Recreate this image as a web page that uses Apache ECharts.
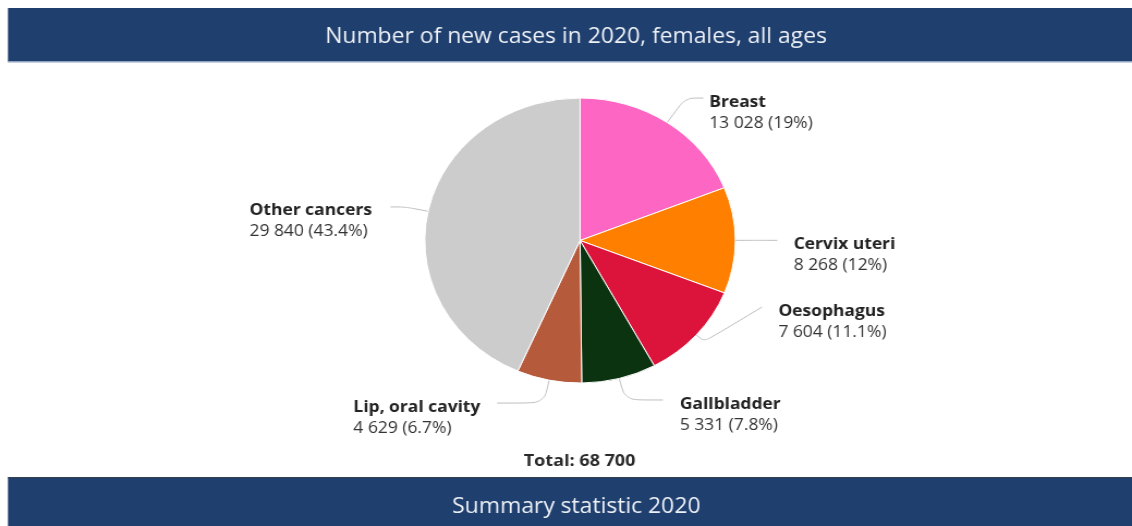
<!DOCTYPE html>
<html>
<head>
<meta charset="utf-8">
<script src="https://cdn.jsdelivr.net/npm/echarts@6/dist/echarts.min.js"></script>
<style>
  html, body { margin: 0; padding: 0; background: #ffffff; overflow: hidden; }
  /* the drawing is laid out on a narrower canvas and widened to the page */
  #chart { width: 1039px; height: 526px; transform: scaleX(1.08951); transform-origin: 0 0; }
</style>
</head>
<body>
<div id="chart"></div>
<script>
// ---- data ----
const categories = ['Breast', 'Cervix uteri', 'Oesophagus', 'Gallbladder', 'Lip, oral cavity', 'Other cancers'];
const newCases = [13028, 8268, 7604, 5331, 4629, 29840];
const chartTitle = 'Number of new cases in 2020, females, all ages';
const footerTitle = 'Summary statistic 2020';

// ---- styling ----
const sliceColors = ['#fe66c3', '#ff7f00', '#dc143c', '#0c3310', '#b65a3c', '#cccccc'];
const barColor = '#1f3f6f';
const FONT = '"Open Sans", "Noto Sans", sans-serif';

// connector shape per slice: radial run, horizontal run, gap before text, upward shift
const connectors = [
  { len: 29.6, len2: 16.5, gap: 5.5, lift: 0 },
  { len: 15,   len2: 23.5, gap: 15,  lift: 0 },
  { len: 10,   len2: 52.8, gap: 15,  lift: 34.5 },
  { len: 22.3, len2: 34.5, gap: 15.5, lift: 0 },
  { len: 23.4, len2: 43,   gap: 15.4, lift: 0 },
  { len: 21.5, len2: 13.5, gap: 17,  lift: 0 }
];

const total = newCases.reduce((a, b) => a + b, 0);
const fmtNum = v => String(v).replace(/\B(?=(\d{3})+(?!\d))/g, ' ');
const fmtPct = v => String(+(v / total * 100).toFixed(1));

const pieData = categories.map((name, i) => ({
  name: name,
  value: newCases[i],
  itemStyle: { color: sliceColors[i] },
  label: { distanceToLabelLine: connectors[i].gap },
  labelLine: { length: connectors[i].len, length2: connectors[i].len2 }
}));

const W = 1039;
const chart = echarts.init(document.getElementById('chart'), null, { renderer: 'canvas' });

chart.setOption({
  animation: false,
  graphic: [
    { type: 'rect', shape: { x: 7.3, y: 8, width: W - 7.3, height: 54 }, style: { fill: barColor } },
    { type: 'rect', shape: { x: 7.3, y: 61, width: W - 7.3, height: 1.5 }, style: { fill: '#8fa2c0' } },
    { type: 'rect', shape: { x: 7.3, y: 477, width: W - 7.3, height: 49 }, style: { fill: barColor } },
    { type: 'rect', shape: { x: 7.3, y: 477, width: W - 7.3, height: 1.2 }, style: { fill: '#33404f' } },
    {
      type: 'text', x: 528.7, y: 37.5,
      style: { text: chartTitle, fill: '#eef1f6', font: '21px ' + FONT, align: 'center', verticalAlign: 'middle' }
    },
    {
      type: 'text', x: 529, y: 507.5,
      style: { text: footerTitle, fill: '#eef1f6', font: '21px ' + FONT, align: 'center', verticalAlign: 'middle' }
    },
    {
      type: 'text', x: 532, y: 461,
      style: { text: 'Total: ' + fmtNum(total), fill: '#2a2a2a', font: 'bold 16.5px ' + FONT, align: 'center', verticalAlign: 'middle' }
    }
  ],
  series: [{
    type: 'pie',
    center: [532.4, 240.5],
    radius: 142.5,
    startAngle: 90,
    clockwise: true,
    avoidLabelOverlap: false,
    emphasis: { disabled: true },
    itemStyle: { borderColor: '#ffffff', borderWidth: 1 },
    label: {
      show: true,
      position: 'outside',
      alignTo: 'none',
      padding: [29, 0, 0, 0],
      formatter: p => '{n|' + p.name + '}\n{v|' + fmtNum(p.value) + ' (' + fmtPct(p.value) + '%)}',
      rich: {
        n: { fontFamily: FONT, fontWeight: 'bold', fontSize: 16, lineHeight: 21, color: '#222222', align: 'left' },
        v: { fontFamily: FONT, fontSize: 16, lineHeight: 21, color: '#333333', align: 'left' }
      }
    },
    labelLine: {
      show: true,
      smooth: 0.3,
      lineStyle: { color: '#bdbdbd', width: 1 }
    },
    labelLayout: function (p) {
      const c = connectors[p.dataIndex];
      if (!c || !c.lift || !p.labelLinePoints) return {};
      const pts = p.labelLinePoints.map(q => q.slice());
      pts[2][1] -= c.lift;
      return { y: pts[2][1], labelLinePoints: pts };
    },
    data: pieData
  }]
});
</script>
</body>
</html>
